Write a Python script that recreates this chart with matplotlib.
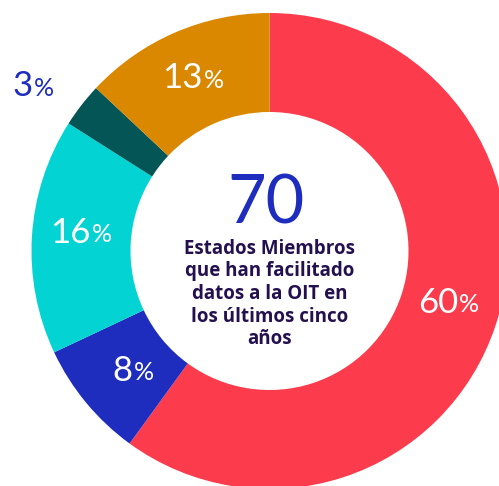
import numpy as np
import matplotlib.pyplot as plt

# share of countries by ... (clockwise from the top)
shares = [60, 8, 16, 3, 13]
colors = ['#FC3C4D', '#1F2DBE', '#04D3D3', '#045555', '#D98800']
total_label = '70'
center_text = 'Estados Miembros\nque han facilitado\ndatos a la OIT en\nlos últimos cinco\naños'

R_OUT = 238
WIDTH = 99

fig = plt.figure(figsize=(4.99, 4.86), dpi=100)
ax = fig.add_axes([0, 0, 1, 1])
ax.pie(shares, colors=colors, startangle=90, counterclock=False, radius=R_OUT,
       wedgeprops=dict(width=WIDTH, linewidth=0))
ax.set_xlim(-269.5, 229.5)
ax.set_ylim(-235, 251)
ax.set_aspect('equal')
ax.axis('off')

num_font = 'Lato'
# label placement: (angle shift in deg, radius)
place = [(2, 188), (0, 188), (-2, 188), (3.8, 295), (0, 188)]
cum = np.cumsum([0] + shares[:-1])
for i, s in enumerate(shares):
    mid = 90 - (cum[i] + s / 2) * 3.6 + place[i][0]
    r = place[i][1]
    x, y = r * np.cos(np.radians(mid)), r * np.sin(np.radians(mid))
    col = '#1F2DBE' if r > R_OUT else 'white'
    ax.text(x + 8, y, str(s), ha='right', va='center', fontsize=25,
            color=col, family=num_font)
    ax.text(x + 9, y - 2, '%', ha='left', va='center', fontsize=18,
            color=col, family=num_font)

ax.text(-3, 47, total_label, ha='center', va='center', fontsize=48,
        color='#1F2DBE', family=num_font)
ax.text(0, -43, center_text, ha='center', va='center', fontsize=13.5,
        color='#24104F', family='Open Sans', fontweight='bold', linespacing=1.18)

fig.savefig('out.png', dpi=100)
